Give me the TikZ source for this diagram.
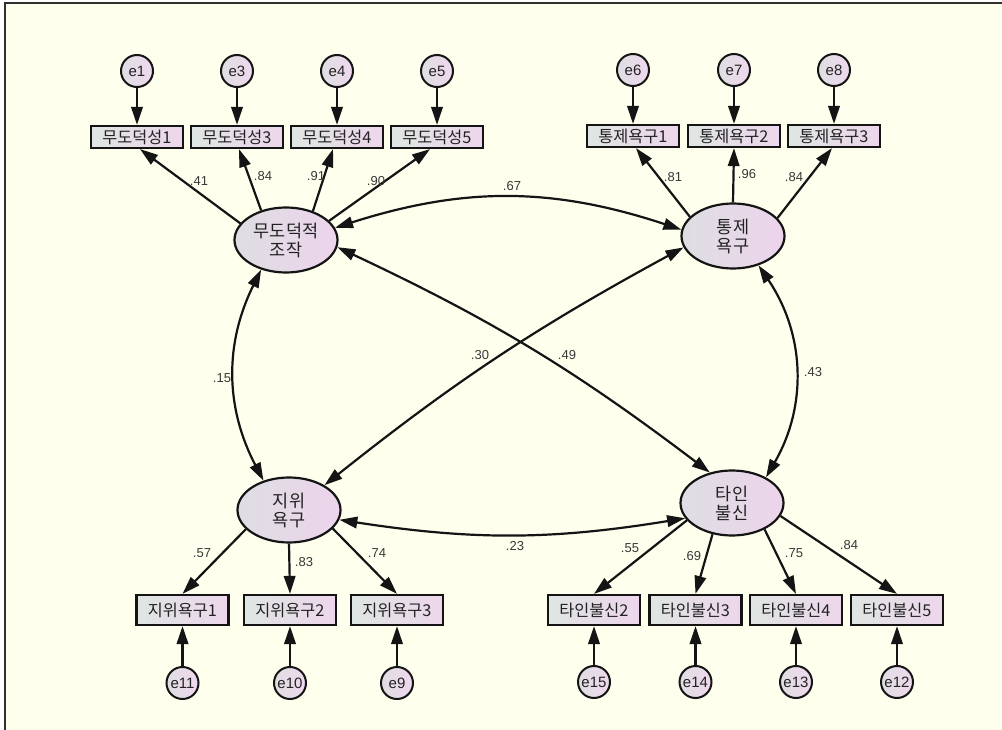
\documentclass[tikz,border=0pt]{standalone}
\usepackage{fontspec}
\setmainfont{Liberation Sans}
\newfontfamily\kr{Noto Sans CJK KR}
\usetikzlibrary{shapes.geometric,arrows.meta}
\definecolor{paper}{HTML}{FFFFEE}
\definecolor{frame}{HTML}{303030}
\definecolor{edge}{HTML}{141414}
\definecolor{ink}{HTML}{222222}
\definecolor{lab}{HTML}{383838}
\definecolor{latL}{HTML}{DEDEE2}
\definecolor{latR}{HTML}{EDD4EC}
\definecolor{boxL}{HTML}{DFE5E2}
\definecolor{boxR}{HTML}{EDD6EC}
\definecolor{errL}{HTML}{E0DEE2}
\definecolor{errR}{HTML}{EED8EE}
\tikzset{
  tip/.tip={Triangle[length=18pt,width=11.5pt]},
  latent/.style={ellipse, draw=edge, line width=2.2pt, minimum width=103pt,
    minimum height=65pt, inner sep=0pt, left color=latL, right color=latR,
    font=\kr\fontsize{17.5}{19}\selectfont, text=ink, align=center},
  obs/.style={rectangle, draw=edge, line width=2.2pt, minimum width=92pt,
    minimum height=22pt, inner sep=0pt, left color=boxL, right color=boxR,
    font=\kr\fontsize{16.3}{17}\selectfont, text=ink},
  obsB/.style={obs, minimum height=30pt},
  err/.style={circle, draw=edge, line width=2pt, minimum size=32pt,
    inner sep=0pt, left color=errL, right color=errR,
    font=\fontsize{15}{16}\selectfont, text=ink},
  load/.style={draw=edge, line width=2.2pt, -tip},
  covar/.style={draw=edge, line width=2.2pt, tip-tip},
  coef/.style={font=\fontsize{13}{14}\selectfont, text=lab, inner sep=0pt}
}
\begin{document}
\begin{tikzpicture}[x=1pt,y=-1pt]
% canvas and frame
\useasboundingbox (0,0) rectangle (1002,730);
\fill[white] (0,0) rectangle (1002,730);
\fill[paper] (5,3) rectangle (1002,730);
\draw[frame, line width=1.8pt] (5,730) -- (5,3) -- (1002,3);

% latent factors
\node[latent] (moral) at (286,240) {무도덕적\\조작};
\node[latent] (ctrl)  at (733,236) {통제\\욕구};
\node[latent] (stat)  at (289,510) {지위\\욕구};
\node[latent] (dist)  at (732,503) {타인\\불신};

% indicators of 무도덕적 조작
\node[obs] (m1) at (137,137) {무도덕성1};
\node[obs] (m3) at (237,137) {무도덕성3};
\node[obs] (m4) at (337,137) {무도덕성4};
\node[obs] (m5) at (437,137) {무도덕성5};
\node[err] (e1) at (137,71) {e1};
\node[err] (e3) at (237,71) {e3};
\node[err] (e4) at (337,71) {e4};
\node[err] (e5) at (437,71) {e5};

% indicators of 통제 욕구
\node[obs] (c1) at (633,136) {통제욕구1};
\node[obs] (c2) at (734,136) {통제욕구2};
\node[obs] (c3) at (834,136) {통제욕구3};
\node[err] (e6) at (633,70) {e6};
\node[err] (e7) at (734,70) {e7};
\node[err] (e8) at (834,70) {e8};

% indicators of 지위 욕구
\node[obsB] (s1) at (182.5,610) {지위욕구1};
\node[obsB] (s2) at (290,610) {지위욕구2};
\node[obsB] (s3) at (397,610) {지위욕구3};
\node[err] (e11) at (182.5,683) {e11};
\node[err] (e10) at (290,683) {e10};
\node[err] (e9)  at (397,683) {e9};

% indicators of 타인 불신
\node[obsB] (d2) at (594,610) {타인불신2};
\node[obsB] (d3) at (695.5,610) {타인불신3};
\node[obsB] (d4) at (796,610) {타인불신4};
\node[obsB] (d5) at (897,610) {타인불신5};
\node[err] (e15) at (594,682) {e15};
\node[err] (e14) at (695.5,682) {e14};
\node[err] (e13) at (796,682) {e13};
\node[err] (e12) at (897,682) {e12};

% error terms
\foreach \e/\b in {e1/m1,e3/m3,e4/m4,e5/m5,e6/c1,e7/c2,e8/c3}
  \draw[load] (\e) -- (\b);
\foreach \e/\b in {e11/s1,e10/s2,e9/s3,e15/d2,e14/d3,e13/d4,e12/d5}
  \draw[load] (\e) -- (\b);

% factor loadings
\draw[load] (moral.160) -- ([xshift=3pt]m1.south);
\draw[load] (moral.130) -- ([xshift=2pt]m3.south);
\draw[load] (moral.47)  -- ([xshift=-4pt]m4.south);
\draw[load] (moral.24)  -- ([xshift=-7pt]m5.south);
\draw[load] (ctrl.156)  -- ([xshift=3pt]c1.south);
\draw[load] (ctrl.90)   -- (c2.south);
\draw[load] (ctrl.22)   -- ([xshift=-2pt]c3.south);
\draw[load] (stat.204)  -- (s1.north);
\draw[load] (stat.270)  -- (s2.north);
\draw[load] (stat.-23)  -- (s3.north);
\draw[load] (dist.201)  -- (d2.north);
\draw[load] (dist.238)  -- (d3.north);
\draw[load] (dist.-39)  -- (d4.north);
\draw[load] (dist.-15)  -- (d5.north);

% covariances
\draw[covar] (moral.14) to[bend left=18] (ctrl.173);
\draw[covar] (moral.-130) to[bend right=27] (stat.131);
\draw[covar] (ctrl.-49) to[bend left=32] (dist.37);
\draw[covar] (stat.-11) to[bend right=9] (dist.-162);
\draw[covar] (moral.-8) to[bend left=6] (dist.126);
\draw[covar] (ctrl.193) to[bend right=5] (stat.35);

% estimates
\node[coef] at (199,181.5) {.41};
\node[coef] at (263,176) {.84};
\node[coef] at (316,176) {.91};
\node[coef] at (376,181.5) {.90};
\node[coef] at (512,186) {.67};
\node[coef] at (673,177.5) {.81};
\node[coef] at (747,174) {.96};
\node[coef] at (794,177.5) {.84};
\node[coef] at (222,378) {.15};
\node[coef] at (480,355) {.30};
\node[coef] at (567,355) {.49};
\node[coef] at (813,372) {.43};
\node[coef] at (515,546.5) {.23};
\node[coef] at (202,553) {.57};
\node[coef] at (304,562.5) {.83};
\node[coef] at (377,553) {.74};
\node[coef] at (630,548) {.55};
\node[coef] at (692,556) {.69};
\node[coef] at (794,553) {.75};
\node[coef] at (849,545) {.84};
\end{tikzpicture}
\end{document}
